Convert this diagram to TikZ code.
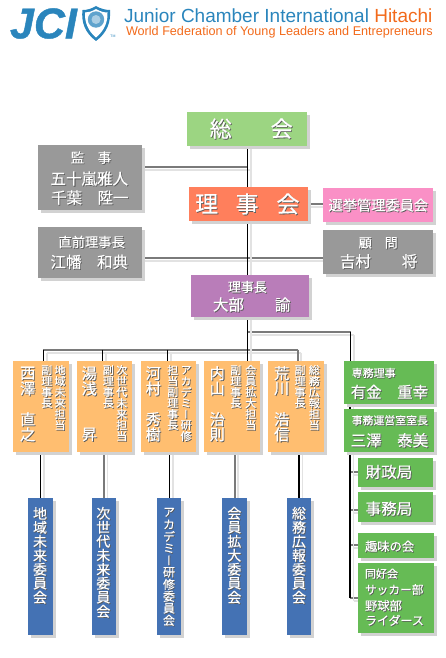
\documentclass[tikz,border=0pt]{standalone}
\usepackage{fontspec}
\usetikzlibrary{shadows,backgrounds}
\setmainfont{Liberation Sans}
\newfontfamily\jcifont[FakeBold=1]{Liberation Sans Bold Italic}
\newfontfamily\cjk[FakeBold=0.35]{Noto Sans CJK JP}
\newfontfamily\cjkv[RawFeature={+vert},FakeBold=0.35]{Noto Sans CJK JP}
\definecolor{shc}{HTML}{5A5A5A}
\definecolor{boxsh}{HTML}{D2D2D2}
\definecolor{linesh}{HTML}{E2E2E2}
\definecolor{cgreenlt}{HTML}{9CD582}
\definecolor{cgray}{HTML}{999999}
\definecolor{cred}{HTML}{FF7F5C}
\definecolor{cpink}{HTML}{FA90C6}
\definecolor{cpurple}{HTML}{B97DB9}
\definecolor{corange}{HTML}{FFBE70}
\definecolor{cgreen}{HTML}{66BB55}
\definecolor{cblue}{HTML}{4472B4}
\definecolor{jciblue}{HTML}{2A85BC}
\definecolor{jcior}{HTML}{F26A1B}
\definecolor{gline}{HTML}{7A7A7A}
\newcommand\sh[1]{\rlap{\hspace{.8pt}\raisebox{-.8pt}{\textcolor{shc}{#1}}}\textcolor{white}{#1}}
\makeatletter
\newcommand\vst[3]{\vbox{\offinterlineskip\fontsize{#2}{#2}\cjkv\selectfont
  \@tfor\vch:=#3\do{\vbox to #1pt{\vss\hbox to #2pt{\hss\sh{\vch}\hss}\vss}}}}
\makeatother
\tikzset{
  boxn/.style={rectangle,inner sep=0pt,outer sep=0pt,drop shadow={shadow xshift=3pt,shadow yshift=-3pt,fill=boxsh,opacity=1}},
  txtn/.style={inner sep=0pt,outer sep=0pt},
  blk/.style={black,line width=1.1pt},
  gry/.style={draw=gline,line width=2pt},
  lsh/.style={draw=linesh,line width=1.8pt,transform canvas={shift={(3.5pt,-3pt)}}}
}
\newcommand\bx[6]{\node[boxn,fill=#6,minimum width={(#4-#2)*1pt},minimum height={(#5-#3)*1pt}] (#1) at ({(#2+#4)/2},{(#3+#5)/2}) {};}
\newcommand\tx[6][center]{\node[txtn,anchor=#1] (#2) at (#3,#4) {\fontsize{#5}{#5}\cjk\selectfont\sh{#6}};}
\newcommand\vt[6]{\node[txtn,anchor=north] (#1) at (#2,#3) {\vst{#4}{#5}{#6}};}
\newcommand\wire[2]{\draw[lsh] #2; \draw[#1] #2;}
\begin{document}
\begin{tikzpicture}[x=1pt,y=-1pt]
\useasboundingbox (0,0) rectangle (445,658);
% header
\node[txtn,anchor=west,text=jciblue] (jci) at (10,23.5) {\fontsize{43}{43}\jcifont\selectfont JCI};
\fill[jciblue] (96,6) .. controls (101,9) and (106,10) .. (110,10) .. controls (111,22) and (107,33) .. (96,41) .. controls (85,33) and (81,22) .. (82.5,10) .. controls (87,10) and (91,9) .. (96,6) -- cycle;
\fill[white] (96,9) .. controls (100,11.5) and (104,12.5) .. (107.5,12.5) .. controls (108,22) and (104,31) .. (96,37.5) .. controls (88,31) and (84.5,22) .. (85,12.5) .. controls (88.5,12.5) and (92,11.5) .. (96,9) -- cycle;
\fill[jciblue!75] (96,19.5) circle (8.2);
\fill[white!60!jciblue] (96,19.5) circle (4.5);
\node[txtn,text=jciblue] (tm) at (113,36) {\fontsize{3.5}{3.5}\selectfont TM};
\node[txtn,anchor=west] (title) at (124,15.7) {\fontsize{19}{19}\selectfont\textcolor{jciblue}{Junior Chamber International} \textcolor{jcior}{Hitachi}};
\node[txtn,anchor=west,text=jcior] (sub) at (126,32.3) {\fontsize{12.63}{12.63}\selectfont World Federation of Young Leaders and Entrepreneurs};
% boxes
\bx{soukai}{187.3}{112}{306.7}{146}{cgreenlt}
\bx{kanji}{38}{145}{141.7}{210}{cgray}
\bx{rijikai}{188.7}{187}{307.7}{221}{cred}
\bx{senkyo}{323}{188}{432.7}{221.7}{cpink}
\bx{chokuzen}{38}{227}{141.7}{277.7}{cgray}
\bx{komon}{323}{230}{432.7}{274}{cgray}
\bx{rijicho}{190.7}{275}{309}{317}{cpurple}
\bx{o1}{13}{361}{69}{451.7}{corange}
\bx{o2}{76.7}{361}{132}{451.7}{corange}
\bx{o3}{140.7}{361}{195.7}{451.7}{corange}
\bx{o4}{204.3}{361}{260}{451.7}{corange}
\bx{o5}{268.3}{361}{323.7}{451.7}{corange}
\bx{senmu}{344.3}{361}{434}{404.3}{cgreen}
\bx{unei}{344.3}{409.3}{434}{452.3}{cgreen}
\bx{zaisei}{358.3}{457.7}{432.7}{486.7}{cgreen}
\bx{jimu}{358.3}{492.3}{432.7}{521.7}{cgreen}
\bx{shumi}{358.3}{532.7}{434}{557.7}{cgreen}
\bx{doukou}{358.3}{563.3}{434}{633.3}{cgreen}
\bx{b1}{28.3}{498}{52.7}{635}{cblue}
\bx{b2}{92}{498}{116}{635}{cblue}
\bx{b3}{157.3}{498}{181}{635}{cblue}
\bx{b4}{222.3}{498}{246.7}{635}{cblue}
\bx{b5}{287}{498}{311}{635}{cblue}
% connectors
\coordinate (trunk) at (247.3,0);
\coordinate (jr) at (350.7,331.7);
\coordinate (jt) at (247.3,331.7);
\coordinate (busl) at (43.3,349.7);
\coordinate (busr) at (297.7,349.7);
\coordinate (st2) at (102.5,349.7);
\coordinate (st3) at (167.5,349.7);
\coordinate (rt) at (350,404);
\coordinate (kj) at (247.3,166.7);
\begin{scope}[on background layer]
\wire{gry}{(kanji.east |- kj) -- (kj)}
\wire{gry}{(rijikai.east) -- (senkyo.west |- rijikai.east)}
\wire{gry}{(chokuzen.east |- 0,257.7) -- (komon.west |- 0,257.7)}
\wire{gry}{(jt) -- (jr)}
\wire{gry}{(busl) -- (busr)}
\wire{gry}{(busr) -- (o5.north -| busr)}
\wire{blk}{(soukai.south -| trunk) -- (rijikai.north -| trunk)}
\wire{blk}{(rijikai.south -| trunk) -- (rijicho.north -| trunk)}
\wire{blk}{(rijicho.south -| trunk) -- (o4.north -| trunk)}
\wire{blk}{(jr) -- (senmu.north -| jr)}
\wire{blk}{(busl) -- (o1.north -| busl)}
\wire{blk}{(st2) -- (o2.north -| st2)}
\wire{blk}{(st3) -- (o3.north -| st3)}
\wire{blk}{(o1.south -| b1) -- (b1.north)}
\wire{gry}{(o2.south -| b2) -- (b2.north)}
\wire{blk}{(o3.south -| b3) -- (b3.north)}
\wire{gry}{(o4.south -| b4) -- (b4.north)}
\wire{blk}{(o5.south -| b5) -- (b5.north)}
\wire{gry}{(rt |- zaisei.west) -- (zaisei.west)}
\wire{gry}{(rt |- 0,510) -- (jimu.west |- 0,510)}
\wire{gry}{(rt |- shumi.west) -- (shumi.west)}
\wire{gry}{(rt |- doukou.west) -- (doukou.west)}
\wire{blk}{(rt) -- (rt |- doukou.west)}
\end{scope}
% texts
\tx{t1a}{220.8}{129}{22}{総}
\tx{t1b}{281.7}{129}{22}{会}
\tx{t2}{91}{158}{13.5}{監　事}
\tx{t3}{89.3}{179}{15.5}{五十嵐雅人}
\tx{t4}{89.8}{198}{15.5}{千葉　陞一}
\tx{t5a}{206.7}{204.3}{23}{理}
\tx{t5b}{247}{204.3}{23}{事}
\tx{t5c}{288}{204.3}{23}{会}
\tx{t6}{378.3}{205.5}{14.2}{選挙管理委員会}
\tx{t7}{91.7}{242.3}{13.3}{直前理事長}
\tx{t8}{89.3}{262.3}{15.5}{江幡　和典}
\tx{t9}{378.3}{243.3}{13}{顧　問}
\tx{t10}{378.7}{261.7}{15.5}{吉村　　将}
\tx{t11}{247.3}{287.3}{13}{理事長}
\tx{t12}{251.7}{305}{15.5}{大部　　諭}
\tx[west]{t13}{351.7}{373.3}{11}{専務理事}
\tx[west]{t14}{350.7}{392.3}{15.5}{有金　重幸}
\tx[west]{t15}{351.7}{420.7}{10.9}{事務運営室室長}
\tx[west]{t16}{350.7}{440.7}{15.5}{三澤　泰美}
\tx[west]{t17}{365.7}{472.3}{15.5}{財政局}
\tx[west]{t18}{365.7}{509}{15.5}{事務局}
\tx[west]{t19}{365}{546.7}{12.3}{趣味の会}
\tx[west]{t20}{365}{574}{11}{同好会}
\tx[west]{t21}{365}{590}{11.7}{サッカー部}
\tx[west]{t22}{365}{606}{12.3}{野球部}
\tx[west]{t23}{365}{620.7}{12}{ライダース}
\vt{v1a}{27.7}{366}{15.3}{15.3}{西澤　直之}
\vt{v1b}{46.7}{365}{11}{11}{副理事長}
\vt{v1c}{60}{365}{11}{11}{地域未来担当}
\vt{v2a}{89.3}{366}{15.3}{15.3}{湯浅　　昇}
\vt{v2b}{108.3}{365}{11}{11}{副理事長}
\vt{v2c}{121.7}{365}{11}{11}{次世代未来担当}
\vt{v3a}{153.3}{366}{15.3}{15.3}{河村　秀樹}
\vt{v3b}{172.7}{365}{11}{11}{担当副理事長}
\vt{v3c}{186}{365}{11}{11}{アカデミー研修}
\vt{v4a}{217.3}{366}{15.3}{15.3}{内山　治則}
\vt{v4b}{235.7}{365}{11}{11}{副理事長}
\vt{v4c}{250.7}{365}{11}{11}{会員拡大担当}
\vt{v5a}{281.7}{366}{15.3}{15.3}{荒川　浩信}
\vt{v5b}{300}{365}{11}{11}{副理事長}
\vt{v5c}{314.3}{365}{11}{11}{総務広報担当}
\vt{w1}{40}{506.7}{14}{14}{地域未来委員会}
\vt{w2}{103.3}{506.7}{14}{14}{次世代未来委員会}
\vt{w3}{169}{506.7}{12}{12}{アカデミー研修委員会}
\vt{w4}{234.3}{506.7}{14}{14}{会員拡大委員会}
\vt{w5}{299}{506.7}{14}{14}{総務広報委員会}
\end{tikzpicture}
\end{document}
